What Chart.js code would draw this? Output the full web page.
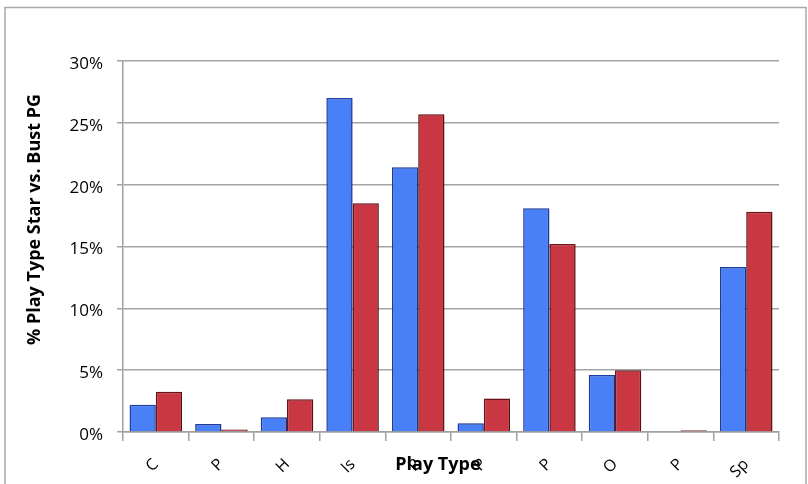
<!DOCTYPE html>
<html>
<head>
<meta charset="utf-8">
<script src="https://cdn.jsdelivr.net/npm/chart.js@4/dist/chart.umd.min.js"></script>
<style>
  html, body { margin: 0; padding: 0; background: #ffffff; }
  #wrap { width: 808px; height: 484px; position: relative; }
</style>
</head>
<body>
<div id="wrap"><canvas id="chart"></canvas></div>
<script>
// Play type categories (x axis)
const playTypes = ["C", "P", "H", "Is", "R", "P", "P", "O", "P", "Sp"];
// Share of possessions by play type, in percent
const starPG = [2.2, 0.65, 1.2, 27.0, 21.4, 0.7, 18.1, 4.6, 0, 13.35];
const bustPG = [3.25, 0.2, 2.65, 18.5, 25.7, 2.7, 15.2, 5.0, 0.15, 17.8];
// Y axis range and step, in percent
const yMax = 30;
const yStep = 5;
// Axis titles
const xTitle = 'Play Type';
const yTitle = '% Play Type Star vs. Bust PG';

const titleFont = 'bold 18px "Open Sans"';

// Thin gray frame around the whole chart
const framePlugin = {
  id: 'frame',
  afterDraw(chart) {
    const ctx = chart.ctx;
    ctx.save();
    ctx.strokeStyle = '#a9a9a9';
    ctx.lineWidth = 1.5;
    ctx.strokeRect(5, 7.5, 801, 500);
    ctx.restore();
  }
};

// Axis titles, drawn last so the x title sits over the category labels
const axisTitlePlugin = {
  id: 'axisTitles',
  afterDraw(chart) {
    const ctx = chart.ctx;
    const area = chart.chartArea;
    ctx.save();
    ctx.fillStyle = '#000000';
    ctx.font = titleFont;
    ctx.textBaseline = 'alphabetic';
    ctx.textAlign = 'center';
    ctx.fillText(xTitle, area.left + (area.right - area.left) * 0.48, 470);
    ctx.translate(40, 345);
    ctx.rotate(-Math.PI / 2);
    ctx.textAlign = 'left';
    ctx.fillText(yTitle, 0, 0);
    ctx.restore();
  }
};

// Soft drop shadow under the bars
const barShadowPlugin = {
  id: 'barShadow',
  beforeDatasetsDraw(chart) {
    const ctx = chart.ctx;
    ctx.save();
    ctx.shadowColor = 'rgba(0,0,0,0.28)';
    ctx.shadowBlur = 3;
    ctx.shadowOffsetX = 1;
    ctx.shadowOffsetY = 1;
  },
  afterDatasetsDraw(chart) {
    chart.ctx.restore();
  }
};

new Chart(document.getElementById('chart'), {
  type: 'bar',
  data: {
    labels: playTypes,
    datasets: [
      {
        label: 'Star PG',
        data: starPG,
        backgroundColor: '#4a80f7',
        borderColor: '#1f3ea6',
        borderWidth: 1.5,
        borderSkipped: 'bottom'
      },
      {
        label: 'Bust PG',
        data: bustPG,
        backgroundColor: '#c93742',
        borderColor: '#6e1217',
        borderWidth: 1.5,
        borderSkipped: 'bottom'
      }
    ]
  },
  options: {
    responsive: true,
    maintainAspectRatio: false,
    devicePixelRatio: 1,
    animation: false,
    layout: { padding: { left: 4, top: 61, right: 29, bottom: 0 } },
    plugins: {
      legend: { display: false },
      tooltip: { enabled: false }
    },
    datasets: {
      bar: { categoryPercentage: 0.8, barPercentage: 1.0 }
    },
    scales: {
      x: {
        afterFit(scale) { scale.height = 52; },
        grid: {
          offset: true,
          drawOnChartArea: false,
          drawTicks: true,
          tickLength: 9,
          color: '#a0a0a0',
          lineWidth: 1.5
        },
        border: { color: '#a0a0a0', width: 1.5 },
        ticks: {
          minRotation: 45,
          maxRotation: 45,
          autoSkip: false,
          padding: 14,
          color: '#000000',
          font: { family: 'Open Sans', size: 16 }
        }
      },
      y: {
        min: 0,
        max: yMax,
        afterFit(scale) { scale.width = 119; },
        grid: {
          color: '#a3a3a3',
          lineWidth: 1.5,
          drawTicks: true,
          tickLength: 6
        },
        border: { color: '#a0a0a0', width: 1.5 },
        ticks: {
          stepSize: yStep,
          padding: 14,
          labelOffset: 3,
          color: '#000000',
          font: { family: 'Open Sans', size: 17 },
          callback: (v) => v + '%'
        }
      }
    }
  },
  plugins: [framePlugin, barShadowPlugin, axisTitlePlugin]
});
</script>
</body>
</html>
